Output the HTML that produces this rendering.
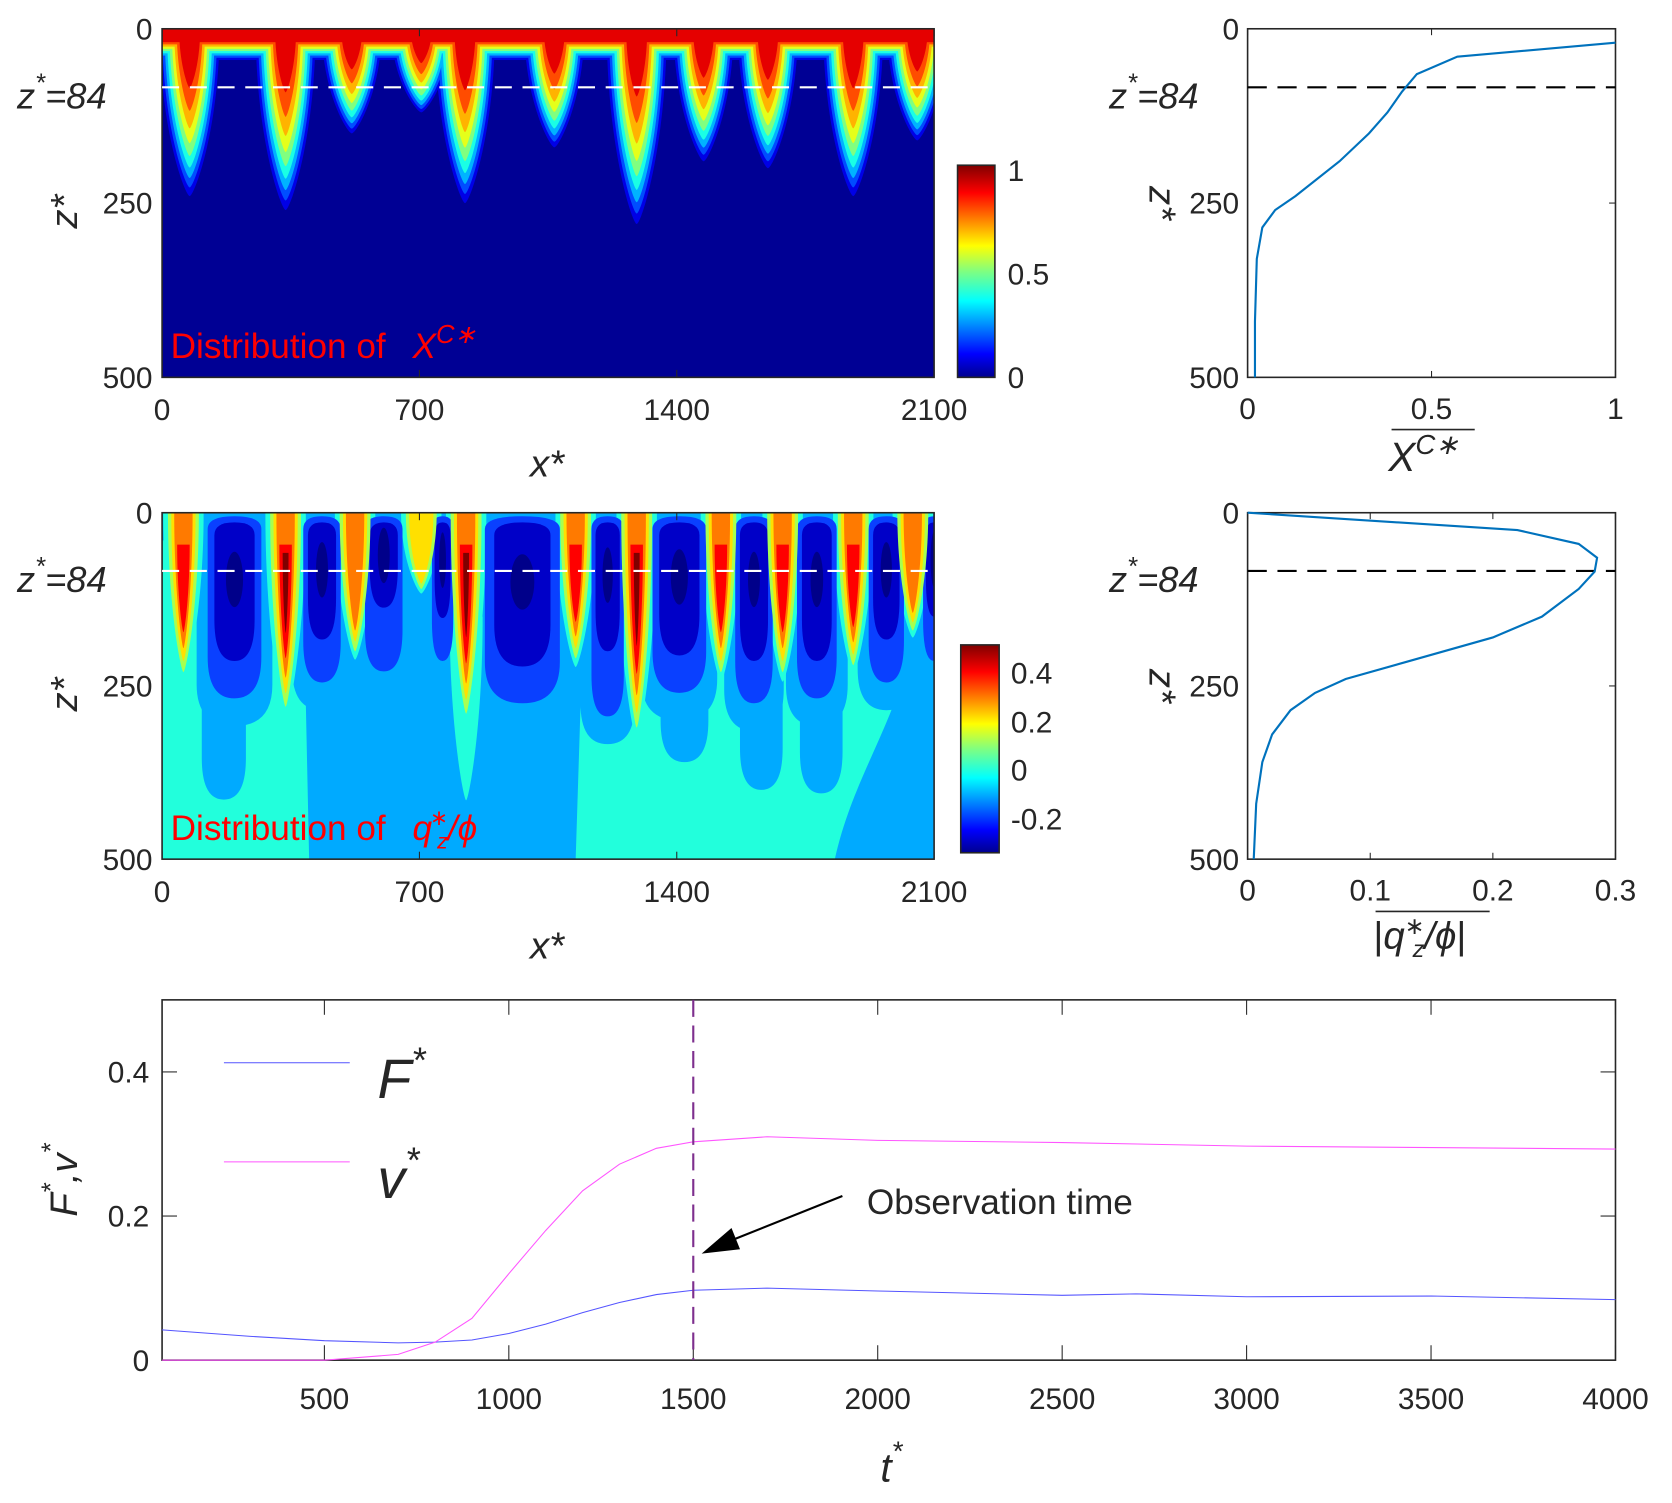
<!DOCTYPE html>
<html><head><meta charset="utf-8"><style>
html,body{margin:0;padding:0;background:#fff}
svg{display:block}
text{font-family:"Liberation Sans",Arial,sans-serif;fill:#262626}
.tk{font-size:28px}
.it{font-style:italic}
</style></head><body>
<svg id="fig" width="1672" height="1503" viewBox="0 0 1568 1410" preserveAspectRatio="none" xmlns="http://www.w3.org/2000/svg">
<defs>
<clipPath id="c1"><rect x="152" y="27" width="724" height="327"/></clipPath>
<clipPath id="c2"><rect x="152" y="481" width="724" height="325"/></clipPath>
<linearGradient id="jetTop" x1="0" y1="1" x2="0" y2="0">
<stop offset="0" stop-color="#00008f"/><stop offset="0.11" stop-color="#0000ff"/><stop offset="0.36" stop-color="#00ffff"/><stop offset="0.5" stop-color="#80ff80"/><stop offset="0.62" stop-color="#ffff00"/><stop offset="0.87" stop-color="#ff0000"/><stop offset="1" stop-color="#800000"/>
</linearGradient>
</defs>
<g id="g1" clip-path="url(#c1)"></g>
<g id="g2" clip-path="url(#c2)"></g>
<g id="ov"></g>
</svg>
<script>
// ---------- data ----------
const topFingerX = [75,336,516,705,824,1067,1291,1473,1648,1880,2054];
const topFingerDepth = [240,260,150,120,250,170,280,190,200,240,160];
const midFingerX = [58,336,525,705,827,1125,1291,1520,1688,1880,2042];
const midFingerDepth = [230,280,200,110,290,210,310,230,230,220,170];
const midFingerLevels = [4,5,3,2,5,4,5,4,4,4,3];
const cellX = [197,435,603,763,980,1212,1407,1610,1781,1970,2100];
const cellHW = [73,51,51,29,102,44,73,51,54,48,30];
const cellBlueDepth = [268,245,229,214,275,294,260,275,268,245,214];
const cellDarkDepth = [214,183,137,152,222,200,206,214,214,183,150];
const lobeX = [168,1421,1630,1793];
const lobeHW = [60,65,58,58];
const lobeDepth = [414,360,400,405];
const profXval = [1,0.57,0.46,0.42,0.38,0.33,0.25,0.13,0.075,0.04,0.025,0.02,0.02];
const profXz = [20,40,65,90,120,150,190,240,260,285,330,420,500];
const profQval = [0,0.22,0.27,0.285,0.283,0.27,0.24,0.2,0.13,0.08,0.055,0.035,0.02,0.012,0.007,0.005];
const profQz = [0,25,45,65,85,110,150,180,215,240,260,285,320,360,420,500];
const tF = [60,300,500,700,800,900,1000,1100,1200,1300,1400,1500,1700,2000,2500,2700,3000,3500,4000];
const Fval = [0.042,0.033,0.027,0.024,0.025,0.028,0.037,0.05,0.066,0.08,0.091,0.097,0.1,0.096,0.09,0.092,0.088,0.089,0.084];
const tV = [60,500,700,800,900,1000,1100,1200,1300,1400,1500,1700,2000,2500,3000,3500,4000];
const Vval = [0,0,0.008,0.025,0.058,0.12,0.18,0.235,0.272,0.294,0.303,0.31,0.305,0.302,0.297,0.295,0.293];
const xTicks = [0,700,1400,2100];
const zTicks = [0,250,500];
const tTicks = [500,1000,1500,2000,2500,3000,3500,4000];
const fvTicks = [0,0.2,0.4];
// ---------- helpers ----------
const NS="http://www.w3.org/2000/svg";
function mk(parent,tag,attrs,txt){const e=document.createElementNS(NS,tag);for(const k in attrs)e.setAttribute(k,attrs[k]);if(txt!==undefined)e.textContent=txt;parent.appendChild(e);return e;}
function jet(v){const c=x=>Math.round(255*Math.max(0,Math.min(1,x)));return `rgb(${c(1.5-Math.abs(4*v-3))},${c(1.5-Math.abs(4*v-2))},${c(1.5-Math.abs(4*v-1))})`;}
const xs1=x=>152+x/2100*724, zs1=z=>27+z/500*327;
const xs2=x=>152+x/2100*724, zs2=z=>481+z/500*325;
function finger(xs,zs,xc,hw,z0,zt){
  const a=xs(xc-hw),b=xs(xc+hw),c=xs(xc),h=zs(z0+(zt-z0)*0.6);
  return `M${a},${zs(z0)} C${a},${h} ${xs(xc-hw*0.15)},${zs(zt)} ${c},${zs(zt)} C${xs(xc+hw*0.15)},${zs(zt)} ${b},${h} ${b},${zs(z0)} Z`;
}
function ucell(xs,zs,xc,hw,z0,zt){
  const a=xs(xc-hw),b=xs(xc+hw),c=xs(xc),r=Math.min(zs(zt)-zs(z0),zs(zt)-zs(Math.max(z0,zt-60))), rt=Math.min(12,(zs(zt)-zs(z0))/3);
  return `M${a},${zs(z0)+rt} Q${a},${zs(z0)} ${c},${zs(z0)} Q${b},${zs(z0)} ${b},${zs(z0)+rt} L${b},${zs(zt)-r} Q${b},${zs(zt)} ${c},${zs(zt)} Q${a},${zs(zt)} ${a},${zs(zt)-r} Z`;
}
const ov=document.getElementById('ov');
// ---------- top contour ----------
const g1=document.getElementById('g1');
mk(g1,'rect',{x:152,y:27,width:724,height:327,fill:jet(0.02)});
for(let k=1;k<=9;k++){
  const v=k/10, band=48-32*v, col=jet(v);
  const g=mk(g1,'g',{fill:col});
  
  
  mk(g,'rect',{x:152,y:zs1(0)-1,width:724,height:zs1(band)-zs1(0)+1});
  topFingerX.forEach((x,i)=>{const dep=topFingerDepth[i];const zt=band+(dep-band)*Math.pow((1-v)/0.9,0.55);mk(g,'path',{d:finger(xs1,zs1,x,88-66*v,0,zt)});});
}
// ---------- middle contour ----------
const g2=document.getElementById('g2');
const CY='#22ffdc', LB='#00aaff', BL='#0a40ff', DB='#0000c8', DD='#00008a';
mk(g2,'rect',{x:152,y:481,width:724,height:325,fill:CY});
mk(g2,'rect',{x:152,y:zs2(0),width:724,height:zs2(40)-zs2(0),fill:LB});
cellX.forEach((x,i)=>mk(g2,'path',{d:ucell(xs2,zs2,x,cellHW[i]+30,0,cellBlueDepth[i]+40),fill:LB}));
mk(g2,'path',{d:`M${xs2(400)},${zs2(500)} L${xs2(390)},${zs2(250)} L${xs2(400)},0 L${xs2(1140)},0 L${xs2(1140)},${zs2(250)} L${xs2(1125)},${zs2(500)} Z`,fill:LB});
mk(g2,'path',{d:`M${xs2(1830)},${zs2(500)} C${xs2(1880)},${zs2(380)} ${xs2(2000)},${zs2(300)} ${xs2(2030)},${zs2(200)} L${xs2(2100)},${zs2(200)} L${xs2(2100)},${zs2(500)} Z`,fill:LB});
lobeX.forEach((x,i)=>mk(g2,'path',{d:ucell(xs2,zs2,x,lobeHW[i],100,lobeDepth[i]),fill:LB}));
mk(g2,'path',{d:finger(xs2,zs2,827,45,150,415),fill:CY});
midFingerX.forEach((x,i)=>mk(g2,'path',{d:finger(xs2,zs2,x,55,0,midFingerDepth[i]*1.06),fill:CY}));
cellX.forEach((x,i)=>{mk(g2,'path',{d:ucell(xs2,zs2,x,cellHW[i],5,cellBlueDepth[i]),fill:BL});
  mk(g2,'path',{d:ucell(xs2,zs2,x,cellHW[i]*0.75,14,cellDarkDepth[i]),fill:DB});
  mk(g2,'ellipse',{cx:xs2(x),cy:zs2(cellDarkDepth[i]*0.45),rx:cellHW[i]*0.11,ry:26,fill:DD});});
const fcols=['#a8ff50','#ffe000','#ff7a00','#ff0000','#800000'];
const fhw=[42,33,25,17,8], ffr=[1,0.93,0.85,0.75,0.62];
midFingerX.forEach((x,i)=>{for(let l=0;l<midFingerLevels[i];l++){
  const p=mk(g2,'path',{d:finger(xs2,zs2,x,fhw[l],l<3?0:10+l*12,midFingerDepth[i]*ffr[l]),fill:fcols[l]});
  
  }});
// ---------- contour decorations ----------
function contourAxes(y0,h,zs,labelMath){
  mk(ov,'rect',{x:152,y:y0,width:724,height:h,fill:'none',stroke:'#262626','stroke-width':1.5});
  mk(ov,'line',{x1:152,x2:876,y1:zs(84),y2:zs(84),stroke:'#fff','stroke-width':2,'stroke-dasharray':'16,10'});
  xTicks.forEach(t=>{const x=xs1(t);mk(ov,'line',{x1:x,x2:x,y1:y0+h,y2:y0+h-7,stroke:'#262626'});mk(ov,'line',{x1:x,x2:x,y1:y0,y2:y0+7,stroke:'#262626'});mk(ov,'text',{x:x,y:y0+h+40,'text-anchor':'middle',class:'tk'},String(t));});
  zTicks.forEach(t=>{const y=zs(t);mk(ov,'text',{x:143,y:y+10,'text-anchor':'end',class:'tk'},String(t));});
  mk(ov,'text',{x:513,y:y0+h+93,'text-anchor':'middle',class:'it','font-size':36},'x*');
  mk(ov,'text',{x:72,y:y0+h*0.5+8,'text-anchor':'middle',class:'it','font-size':36,transform:`rotate(-90 72 ${y0+h*0.5+8})`},'z*');
  const t=mk(ov,'text',{x:16,y:zs(84)+20,class:'it','font-size':34,fill:'#000'});
  t.innerHTML='<tspan>z</tspan><tspan dy="-16" font-size="24">*</tspan><tspan dy="16">=84</tspan>';
  const lab=mk(ov,'text',{x:160,y:y0+h-18,'font-family':'Liberation Serif,serif','font-size':33,style:'fill:#f00'});
  lab.innerHTML=labelMath;
}
contourAxes(27,327,zs1,'Distribution of <tspan dx="16" font-style="italic">X</tspan><tspan dy="-14" font-size="24" font-style="italic">C∗</tspan>');
contourAxes(481,325,zs2,'Distribution of <tspan dx="16" font-style="italic">q</tspan><tspan dy="-14" dx="-2" font-size="20">∗</tspan><tspan dy="22" dx="-10" font-size="20" font-style="italic">z</tspan><tspan dy="-8" font-style="italic">/ϕ</tspan>');
mk(ov,'rect',{x:898,y:155,width:35,height:199,fill:'url(#jetTop)',stroke:'#262626','stroke-width':1.5,});
[[0,354],[0.5,257],[1,160]].forEach(a=>mk(ov,'text',{x:945,y:a[1]+10,class:'tk'},String(a[0])));
mk(ov,'rect',{x:901,y:605,width:36,height:195,fill:'url(#jetTop)',stroke:'#262626','stroke-width':1.5,});
[['0.4',631],['0.2',677],['0',722],['-0.2',768]].forEach(a=>mk(ov,'text',{x:948,y:a[1]+10,class:'tk'},a[0]));
// ---------- profiles ----------
function profile(y0,h,xmax,xt,vals,zz,lab){
  const px=v=>1170+v/xmax*345, pz=z=>y0+z/500*h;
  mk(ov,'rect',{x:1170,y:y0,width:345,height:h,fill:'none',stroke:'#262626','stroke-width':1.5});
  xt.forEach(t=>{const x=px(t);mk(ov,'line',{x1:x,x2:x,y1:y0+h,y2:y0+h-6,stroke:'#262626'});mk(ov,'line',{x1:x,x2:x,y1:y0,y2:y0+6,stroke:'#262626'});mk(ov,'text',{x:x,y:y0+h+39,'text-anchor':'middle',class:'tk'},String(t));});
  zTicks.forEach(t=>{const y=pz(t);mk(ov,'line',{x1:1515,x2:1509,y1:y,y2:y,stroke:'#262626'});mk(ov,'text',{x:1162,y:y+10,'text-anchor':'end',class:'tk'},String(t));});
  mk(ov,'line',{x1:1170,x2:1515,y1:pz(84),y2:pz(84),stroke:'#000','stroke-width':2,'stroke-dasharray':'18,10'});
  const p=mk(ov,'polyline',{points:vals.map((v,i)=>px(v)+','+pz(zz[i])).join(' '),fill:'none',stroke:'#0072bd','stroke-width':2});
  
  
  const t=mk(ov,'text',{x:1040,y:pz(84)+20,class:'it','font-size':34,fill:'#000'});
  t.innerHTML='<tspan>z</tspan><tspan dy="-16" font-size="24">*</tspan><tspan dy="16">=84</tspan>';
  const zy=y0+h*0.5;
  mk(ov,'text',{x:1078,y:zy,'text-anchor':'middle',class:'it','font-size':36,transform:`rotate(90 1078 ${zy})`},'z*');
  lab(y0+h);
}
profile(27,327,1,[0,0.5,1],profXval,profXz,b=>{mk(ov,'line',{x1:1305,x2:1383,y1:b+49,y2:b+49,stroke:'#262626','stroke-width':1.5});const t=mk(ov,'text',{x:1302,y:b+88,'font-family':'Liberation Serif,serif','font-style':'italic','font-size':38});t.innerHTML='X<tspan dy="-16" font-size="26">C∗</tspan>';});
profile(481,325,0.3,[0,0.1,0.2,0.3],profQval,profQz,b=>{mk(ov,'line',{x1:1290,x2:1397,y1:b+49,y2:b+49,stroke:'#262626','stroke-width':1.5});const t=mk(ov,'text',{x:1288,y:b+84,'font-family':'Liberation Serif,serif','font-size':36});t.innerHTML='|<tspan font-style="italic">q</tspan><tspan dy="-14" font-size="22">∗</tspan><tspan dy="22" dx="-11" font-size="22" font-style="italic">z</tspan><tspan dy="-8" font-style="italic">/ϕ</tspan>|';});
// ---------- time series ----------
const tx=t=>152+(t-60)/(4000-60)*1363, ty=v=>1276-v/0.5*338;
mk(ov,'rect',{x:152,y:938,width:1363,height:338,fill:'none',stroke:'#262626','stroke-width':1.5});
tTicks.forEach(t=>{const x=tx(t);mk(ov,'line',{x1:x,x2:x,y1:1276,y2:1262,stroke:'#262626'});mk(ov,'line',{x1:x,x2:x,y1:938,y2:952,stroke:'#262626'});mk(ov,'text',{x:x,y:1322,'text-anchor':'middle',class:'tk'},String(t));});
fvTicks.forEach(v=>{const y=ty(v);mk(ov,'line',{x1:152,x2:166,y1:y,y2:y,stroke:'#262626'});mk(ov,'line',{x1:1515,x2:1501,y1:y,y2:y,stroke:'#262626'});mk(ov,'text',{x:140,y:y+10,'text-anchor':'end',class:'tk'},String(v));});
const fl=mk(ov,'polyline',{points:tF.map((t,i)=>tx(t)+','+ty(Fval[i])).join(' '),fill:'none',stroke:'#5555ff','stroke-width':1});


const vl=mk(ov,'polyline',{points:tV.map((t,i)=>tx(t)+','+ty(Vval[i])).join(' '),fill:'none',stroke:'#ff55ff','stroke-width':1});


mk(ov,'line',{x1:tx(1500),x2:tx(1500),y1:938,y2:1276,stroke:'#7e2f8e','stroke-width':2,'stroke-dasharray':'16,8',});
mk(ov,'line',{x1:210,x2:328,y1:997,y2:997,stroke:'#5555ff'});
mk(ov,'line',{x1:210,x2:328,y1:1090,y2:1090,stroke:'#ff55ff'});
let lt=mk(ov,'text',{x:354,y:1030,class:'it','font-size':52,fill:'#000',});lt.innerHTML='F<tspan dy="-24" font-size="34">*</tspan>';
lt=mk(ov,'text',{x:354,y:1124,class:'it','font-size':52,fill:'#000',});lt.innerHTML='v<tspan dy="-24" font-size="34">*</tspan>';
mk(ov,'text',{x:813,y:1139,'font-size':33,fill:'#000'},'Observation time');
mk(ov,'line',{x1:790,y1:1122,x2:680,y2:1166,stroke:'#000','stroke-width':2});
mk(ov,'polygon',{points:'658,1176 686,1152 694,1172',fill:'#000'});
lt=mk(ov,'text',{x:836,y:1390,'text-anchor':'middle',class:'it','font-size':38});lt.innerHTML='t<tspan dy="-20" font-size="26">*</tspan>';
lt=mk(ov,'text',{x:72,y:1107,'text-anchor':'middle',class:'it','font-size':36,transform:'rotate(-90 72 1107)'});lt.innerHTML='F<tspan dy="-16" font-size="24">*</tspan><tspan dy="16">,v</tspan><tspan dy="-16" font-size="24">*</tspan>';
</script>
</body></html>
